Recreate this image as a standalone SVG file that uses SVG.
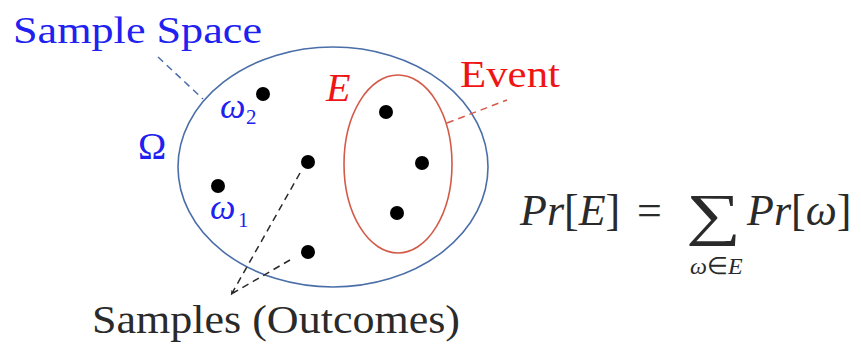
<svg xmlns="http://www.w3.org/2000/svg" width="861" height="345" viewBox="0 0 861 345">
<defs>
  <marker id="tip" viewBox="0 0 10 10" refX="9" refY="5" markerWidth="5" markerHeight="5" orient="auto" markerUnits="userSpaceOnUse">
    <path d="M0,1 L10,5 L0,9 Z" fill="#2a2a2a"/>
  </marker>
</defs>
<style>
text{font-family:'Liberation Serif','Times New Roman',serif}
.blue{fill:#2020f0}
.red{fill:#f01515}
.dark{fill:#2a2a2a}
.it{font-style:italic}
.f{font-size:44px}
.dot{fill:#000}
.dash{fill:none;stroke-width:1.5;stroke-dasharray:7 5}
</style>
<rect width="861" height="345" fill="#fff"/>
<g id="sample-space">
  <ellipse cx="333" cy="167" rx="155" ry="120" fill="none" stroke="#4a6ea8" stroke-width="1.6"/>
  <text class="blue" x="138" y="159" font-size="38">Ω</text>
</g>
<g id="event">
  <ellipse cx="398" cy="164" rx="54" ry="89" fill="none" stroke="#d45a48" stroke-width="1.6"/>
  <text class="red it" x="326" y="101" font-size="40">E</text>
</g>
<g id="outcomes">
  <circle class="dot" cx="263" cy="94" r="7"/>
  <circle class="dot" cx="218" cy="186" r="7"/>
  <circle class="dot" cx="308" cy="162" r="7"/>
  <circle class="dot" cx="308" cy="252" r="7"/>
  <circle class="dot" cx="386" cy="112" r="7"/>
  <circle class="dot" cx="422" cy="163" r="7"/>
  <circle class="dot" cx="397" cy="213" r="7"/>
</g>
<g id="omega-labels">
  <text class="blue it" x="220" y="118" font-size="36">ω</text>
  <text class="blue" x="246" y="124" font-size="21">2</text>
  <text class="blue it" x="210" y="219" font-size="36">ω</text>
  <text class="blue" x="238" y="227" font-size="21">1</text>
</g>
<g id="label-sample-space">
  <text class="blue" x="13" y="43" font-size="38" textLength="249" lengthAdjust="spacingAndGlyphs">Sample Space</text>
</g>
<g id="label-event">
  <text class="red" x="460" y="87" font-size="37" textLength="100" lengthAdjust="spacingAndGlyphs">Event</text>
</g>
<g id="label-samples">
  <text class="dark" x="92" y="333" font-size="40" textLength="368" lengthAdjust="spacingAndGlyphs">Samples (Outcomes)</text>
</g>
<g id="connectors">
  <line class="dash" x1="158" y1="57" x2="203" y2="99" stroke="#4a6ea8"/>
  <line class="dash" x1="447" y1="123" x2="507" y2="100" stroke="#d45a48"/>
  <line class="dash" x1="300" y1="173" x2="231" y2="295" stroke="#2a2a2a" marker-end="url(#tip)"/>
  <line class="dash" x1="290" y1="260" x2="233" y2="293" stroke="#2a2a2a"/>
</g>
<g id="formula" class="dark">
  <text class="dark f" x="520" y="225"><tspan class="it">Pr</tspan>[<tspan class="it">E</tspan>]</text>
  <text class="dark f" x="637" y="225">=</text>
  <text class="dark" x="686" y="234" font-size="58" textLength="55" lengthAdjust="spacingAndGlyphs">∑</text>
  <text class="dark f" x="747" y="225"><tspan class="it">Pr</tspan>[<tspan class="it">ω</tspan>]</text>
  <text class="dark" x="690" y="274" font-size="24"><tspan class="it">ω</tspan>∈<tspan class="it">E</tspan></text>
</g>
</svg>
